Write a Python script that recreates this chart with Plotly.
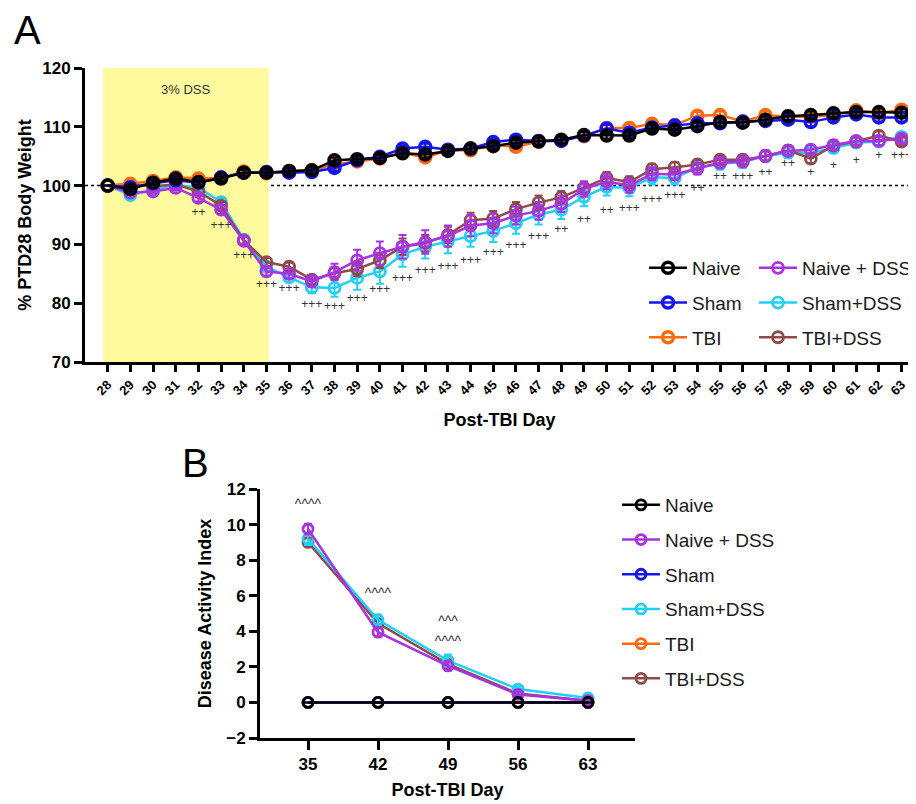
import plotly.graph_objects as go

# The page body has an 8px margin, so the figure is sized to fill the visible window
OFF = 8
W, H = 916 - OFF, 804 - OFF
FONT = "Liberation Sans, Arial, sans-serif"

# ---------------- Panel A data ----------------
days = list(range(28, 64))
day_labels = [str(d) for d in days]

naive = [100.0, 99.4, 100.5, 101.2, 100.6, 101.2, 102.2, 102.2, 102.5, 102.6, 104.3, 104.5,
         104.7, 105.5, 105.3, 105.9, 106.3, 106.7, 107.3, 107.5, 107.8, 108.6, 108.5, 108.5,
         109.7, 109.5, 110.1, 110.8, 110.7, 111.2, 111.8, 112.0, 112.3, 112.5, 112.5, 112.4]
sham = [100.0, 99.7, 100.4, 100.9, 100.5, 101.4, 102.2, 102.3, 102.2, 102.3, 103.0, 104.3,
        104.9, 106.3, 106.6, 106.1, 106.3, 107.4, 107.8, 107.6, 107.6, 108.5, 109.7, 109.0,
        109.9, 110.2, 110.6, 110.6, 110.9, 111.0, 111.2, 110.8, 111.6, 112.1, 111.6, 111.6]
tbi = [100.0, 100.3, 100.8, 101.4, 101.2, 101.3, 102.4, 102.1, 102.4, 102.6, 103.6, 104.1,
       104.6, 105.6, 104.8, 106.0, 106.0, 106.9, 106.6, 107.5, 107.7, 108.4, 109.8, 109.8,
       110.5, 110.3, 111.9, 112.0, 110.9, 112.0, 111.7, 111.7, 112.0, 112.8, 112.3, 112.9]
naive_dss = [100.0, 98.8, 99.0, 99.6, 97.9, 95.9, 90.6, 85.4, 85.0, 83.7, 85.3, 87.3,
             88.5, 89.6, 90.4, 91.4, 93.2, 93.6, 94.9, 95.7, 96.9, 99.4, 100.7, 100.0,
             102.0, 101.9, 102.9, 103.9, 104.1, 105.1, 105.9, 106.1, 106.9, 107.6, 107.6, 108.0]
sham_dss = [100.0, 98.4, 99.3, 100.1, 99.7, 97.2, 90.8, 86.2, 84.4, 82.7, 82.6, 84.3,
            85.4, 88.3, 89.6, 90.5, 91.4, 92.3, 93.6, 95.1, 95.9, 98.1, 99.8, 99.6,
            101.4, 101.3, 103.1, 103.7, 104.0, 105.0, 105.6, 105.6, 106.4, 107.3, 107.5, 108.3]
tbi_dss = [100.0, 100.2, 99.9, 100.2, 99.0, 96.6, 90.7, 87.0, 86.2, 84.0, 85.1, 85.8,
           87.3, 89.6, 90.2, 91.6, 94.1, 94.4, 96.0, 97.1, 98.0, 99.6, 101.3, 100.6,
           102.8, 103.1, 103.6, 104.4, 104.4, 105.0, 106.0, 104.6, 106.8, 107.5, 108.5, 107.5]

err_naive = [0.0, 0.4, 0.4, 0.4, 0.4, 0.4, 0.5, 0.5, 0.5, 0.5, 0.5, 0.5, 0.5, 0.5, 0.5, 0.5,
             0.5, 0.5, 0.5, 0.5, 0.5, 0.5, 0.5, 0.5, 0.5, 0.5, 0.6, 0.6, 0.6, 0.6, 0.6, 0.6,
             0.6, 0.6, 0.6, 0.6]
err_sham = [0.0, 0.4, 0.4, 0.4, 0.4, 0.5, 0.5, 0.5, 0.5, 0.5, 0.5, 0.5, 0.5, 0.5, 0.5, 0.5,
            0.5, 0.5, 0.6, 0.6, 0.6, 0.6, 0.6, 0.6, 0.6, 0.6, 0.6, 0.6, 0.7, 0.7, 0.7, 0.7,
            0.7, 0.7, 0.7, 0.7]
err_tbi = [0.0, 0.4, 0.4, 0.4, 0.4, 0.4, 0.4, 0.5, 0.5, 0.5, 0.5, 0.5, 0.5, 0.5, 0.5, 0.5,
           0.5, 0.5, 0.5, 0.5, 0.5, 0.5, 0.6, 0.6, 0.6, 0.6, 0.6, 0.6, 0.6, 0.6, 0.6, 0.6,
           0.6, 0.6, 0.6, 0.6]
err_naive_dss = [0.0, 0.4, 0.4, 0.4, 0.6, 0.7, 0.7, 0.7, 0.8, 1.0, 1.4, 1.8, 2.0, 2.0, 2.0, 1.8,
                 1.8, 1.7, 1.5, 1.5, 1.4, 1.3, 1.3, 1.2, 1.1, 1.0, 1.0, 0.9, 0.9, 0.9, 0.8, 0.8,
                 0.8, 0.7, 0.7, 0.7]
err_sham_dss = [0.0, 0.5, 0.5, 0.5, 0.6, 0.7, 0.7, 0.7, 0.8, 1.0, 1.5, 2.0, 2.1, 2.1, 2.0, 2.0,
                1.8, 1.9, 1.8, 1.7, 1.6, 1.6, 1.5, 1.4, 1.2, 1.1, 1.1, 1.0, 1.0, 0.9, 0.9, 0.9,
                0.9, 0.8, 0.8, 0.8]
err_tbi_dss = [0.0, 0.4, 0.4, 0.4, 0.5, 0.6, 0.6, 0.7, 0.7, 0.8, 1.0, 1.2, 1.3, 1.4, 1.4, 1.4,
               1.3, 1.3, 1.2, 1.2, 1.1, 1.1, 1.0, 1.0, 0.9, 0.9, 0.8, 0.8, 0.8, 0.8, 0.8, 0.8,
               0.7, 0.7, 0.7, 0.7]

# significance marks (panel A)
sig_days = list(range(32, 64))
sig_text = ["++", "+++", "+++", "+++", "+++", "+++", "+++", "+++", "+++", "+++", "+++", "+++",
            "+++", "+++", "+++", "+++", "++", "++", "++", "+++", "+++", "+++", "++", "++",
            "+++", "++", "++", "+", "+", "+", "+", "+++"]
sig_y = [95.3, 93.1, 88.0, 83.1, 82.4, 79.7, 79.3, 80.7, 82.2, 84.2, 85.4, 86.1,
         87.1, 88.5, 89.8, 91.2, 92.5, 94.1, 95.6, 96.1, 97.6, 98.3, 99.5, 101.4,
         101.5, 102.2, 103.6, 102.2, 103.4, 104.2, 105.1, 105.1]

dss_start, dss_end = 27.8, 35.1

# ---------------- Panel B data ----------------
b_days = [35, 42, 49, 56, 63]
b_naive = [0, 0, 0, 0, 0]
b_naive_dss = [9.75, 3.95, 2.05, 0.45, 0.1]
b_sham = [0, 0, 0, 0, 0]
b_sham_dss = [9.2, 4.65, 2.35, 0.75, 0.25]
b_tbi = [0, 0, 0, 0, 0]
b_tbi_dss = [9.0, 4.45, 2.15, 0.5, 0.1]
b_err_naive_dss = [0.3, 0.25, 0.25, 0.15, 0.05]
b_err_sham_dss = [0.35, 0.3, 0.35, 0.15, 0.1]
b_err_tbi_dss = [0.25, 0.25, 0.2, 0.1, 0.05]
b_sig_x = [35, 42, 49, 49]
b_sig_y = [11.1, 6.05, 4.5, 3.35]
b_sig_text = ["^^^^", "^^^^", "^^^", "^^^^"]

COL = {
    "Naive": "#000000",
    "Sham": "#1414F0",
    "TBI": "#FF6A10",
    "Naive + DSS": "#A933E0",
    "Sham+DSS": "#22D0F5",
    "TBI+DSS": "#8E4B4B",
}

fig = go.Figure()

def add_series(x, y, err, name, xa, ya, legend, rank, size=11, lw=2.8):
    c = COL[name]
    fig.add_trace(go.Scatter(
        x=x, y=y, name=name, mode="lines+markers",
        xaxis=xa, yaxis=ya, legend=legend, legendrank=rank,
        legendgroup=legend + name,
        line=dict(color=c, width=2.5),
        marker=dict(symbol="circle-open", size=size, color=c, line=dict(width=lw, color=c)),
        error_y=dict(type="data", array=err, visible=True, color=c, thickness=2, width=4),
    ))

# Panel A (drawing order: bottom to top)
add_series(days, sham_dss, err_sham_dss, "Sham+DSS", "x", "y", "legend2", 2)
add_series(days, tbi_dss, err_tbi_dss, "TBI+DSS", "x", "y", "legend2", 3)
add_series(days, naive_dss, err_naive_dss, "Naive + DSS", "x", "y", "legend2", 1)
add_series(days, tbi, err_tbi, "TBI", "x", "y", "legend", 3, lw=3.5)
add_series(days, sham, err_sham, "Sham", "x", "y", "legend", 2, lw=3.5)
add_series(days, naive, err_naive, "Naive", "x", "y", "legend", 1, lw=3.5)

fig.add_trace(go.Scatter(
    x=sig_days, y=sig_y, text=sig_text, mode="text", xaxis="x", yaxis="y",
    textfont=dict(family=FONT, size=12, color="#333333"), showlegend=False, hoverinfo="skip"))

# Panel B
add_series(b_days, b_tbi_dss, b_err_tbi_dss, "TBI+DSS", "x2", "y2", "legend3", 6, size=10)
add_series(b_days, b_sham_dss, b_err_sham_dss, "Sham+DSS", "x2", "y2", "legend3", 4, size=10)
add_series(b_days, b_naive_dss, b_err_naive_dss, "Naive + DSS", "x2", "y2", "legend3", 2, size=10)
add_series(b_days, b_tbi, [0] * 5, "TBI", "x2", "y2", "legend3", 5, size=10)
add_series(b_days, b_sham, [0] * 5, "Sham", "x2", "y2", "legend3", 3, size=10)
add_series(b_days, b_naive, [0] * 5, "Naive", "x2", "y2", "legend3", 1, size=10)

fig.add_trace(go.Scatter(
    x=b_sig_x, y=b_sig_y, text=b_sig_text, mode="text", xaxis="x2", yaxis="y2",
    textfont=dict(family=FONT, size=14, color="#333333"), showlegend=False, hoverinfo="skip"))

def px_x(p):
    return (p - OFF) / W

def px_y(p):
    return 1 - (p - OFF) / H

axis_common = dict(showline=True, linecolor="black", linewidth=3, ticks="outside",
                   tickcolor="black", tickwidth=2.5, showgrid=False, zeroline=False,
                   automargin=False)

legend_common = dict(orientation="v", xanchor="left", yanchor="top", bgcolor="rgba(0,0,0,0)",
                     font=dict(family=FONT, size=19, color="#1a1a1a"), traceorder="grouped",
                     tracegroupgap=7, itemwidth=38)

fig.update_layout(
    width=W, height=H, margin=dict(l=0, r=0, t=0, b=0, autoexpand=False),
    paper_bgcolor="white", plot_bgcolor="white",
    font=dict(family=FONT, color="black"),
    xaxis=dict(domain=[px_x(85), px_x(914)], range=[27, 63.55], anchor="y",
               tickvals=days, ticktext=day_labels, tickangle=-45, ticklen=7,
               tickfont=dict(family=FONT, size=13, weight="bold"),
               title=dict(text="Post-TBI Day", font=dict(family=FONT, size=18, weight="bold"),
                          standoff=17),
               **axis_common),
    yaxis=dict(domain=[px_y(362), px_y(68)], range=[70, 120], anchor="x",
               tickvals=[70, 80, 90, 100, 110, 120], ticklen=8,
               tickfont=dict(family=FONT, size=17, weight="bold"),
               title=dict(text="% PTD28 Body Weight", font=dict(family=FONT, size=18, weight="bold"),
                          standoff=6),
               **axis_common),
    xaxis2=dict(domain=[px_x(260), px_x(635)], range=[30.2, 67.7], anchor="y2",
                tickvals=b_days, ticklen=9,
                tickfont=dict(family=FONT, size=17, weight="bold"),
                title=dict(text="Post-TBI Day", font=dict(family=FONT, size=18, weight="bold"),
                           standoff=10),
                **axis_common),
    yaxis2=dict(domain=[px_y(738), px_y(489)], range=[-2, 12], anchor="x2",
                tickvals=[-2, 0, 2, 4, 6, 8, 10, 12], ticklen=8,
                tickfont=dict(family=FONT, size=17, weight="bold"),
                title=dict(text="Disease Activity Index", font=dict(family=FONT, size=18, weight="bold"),
                           standoff=10),
                **axis_common),
    legend=dict(x=px_x(644), y=px_y(249), **legend_common),
    legend2=dict(x=px_x(754), y=px_y(249), **legend_common),
    legend3=dict(x=px_x(617), y=px_y(486), **legend_common),
    shapes=[
        dict(type="rect", xref="x", yref="y", x0=dss_start, x1=dss_end, y0=70, y1=120,
             fillcolor="#FFFA9E", line=dict(width=0), layer="below"),
        dict(type="line", xref="x domain", yref="y", x0=0, x1=1, y0=100, y1=100,
             line=dict(color="black", width=1.5, dash="dot"), layer="below"),
    ],
    annotations=[
        dict(text="3% DSS", xref="x", yref="y", x=(dss_start + dss_end) / 2, y=116.4,
             xanchor="center", yanchor="middle",
             showarrow=False, font=dict(family=FONT, size=13, color="#333333")),
        dict(text="A", xref="paper", yref="paper", x=px_x(27), y=px_y(30),
             xanchor="center", yanchor="middle", showarrow=False,
             font=dict(family=FONT, size=40, color="black")),
        dict(text="B", xref="paper", yref="paper", x=px_x(195), y=px_y(463),
             xanchor="center", yanchor="middle", showarrow=False,
             font=dict(family=FONT, size=40, color="black")),
    ],
)

fig.write_html("out.html")
